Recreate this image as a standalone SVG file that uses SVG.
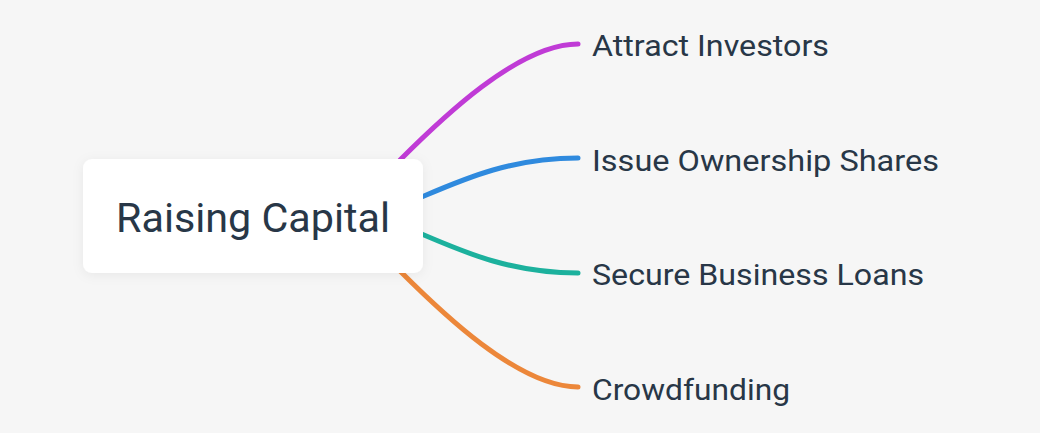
<svg xmlns="http://www.w3.org/2000/svg" width="1040" height="433" viewBox="0 0 1040 433">
  <defs>
    <filter id="sh" x="-20%" y="-30%" width="140%" height="160%">
      <feDropShadow dx="0" dy="2" stdDeviation="6" flood-color="#000" flood-opacity="0.06"/>
    </filter>
    <style>
      .edge { fill: none; stroke-width: 5; stroke-linecap: round; }
      .lbl { font-family: Roboto, "Liberation Sans", sans-serif; font-size: 30px; fill: #283747; }
      .root { font-family: Roboto, "Liberation Sans", sans-serif; font-size: 40px; fill: #283747; }
    </style>
  </defs>
  <rect width="1040" height="433" fill="#F6F6F6"/>
  <g id="connectors">
    <path class="edge" stroke="#C03BD6" d="M 400 160 C 440 120, 518 44, 578 44"/>
    <path class="edge" stroke="#2F8ADE" d="M 400 206 C 450 186, 500 158, 578 158"/>
    <path class="edge" stroke="#1CB19D" d="M 400 225 C 450 245, 500 273, 578 273"/>
    <path class="edge" stroke="#EC873A" d="M 400 271 C 440 311, 518 387, 578 387"/>
  </g>
  <g id="node-root">
    <rect x="83" y="159" width="340" height="114" rx="9" fill="#FFFFFF" filter="url(#sh)"/>
    <text class="root" x="116" y="232" textLength="274" lengthAdjust="spacingAndGlyphs">Raising Capital</text>
  </g>
  <g id="node-attract">
    <text class="lbl" x="592" y="56" textLength="237" lengthAdjust="spacingAndGlyphs">Attract Investors</text>
  </g>
  <g id="node-issue">
    <text class="lbl" x="592" y="171" textLength="347" lengthAdjust="spacingAndGlyphs">Issue Ownership Shares</text>
  </g>
  <g id="node-secure">
    <text class="lbl" x="592" y="285" textLength="332" lengthAdjust="spacingAndGlyphs">Secure Business Loans</text>
  </g>
  <g id="node-crowd">
    <text class="lbl" x="592" y="400" textLength="198" lengthAdjust="spacingAndGlyphs">Crowdfunding</text>
  </g>
</svg>
